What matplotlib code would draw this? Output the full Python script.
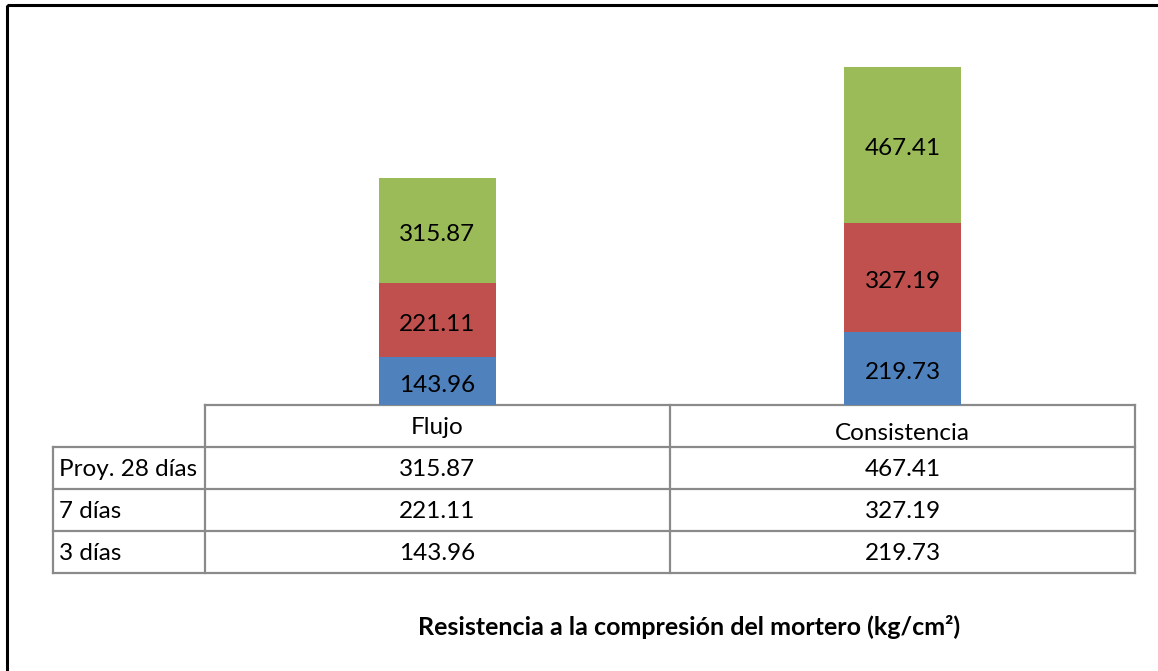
import numpy as np
import matplotlib.pyplot as plt
from matplotlib.patches import Rectangle

plt.rcParams['font.family'] = ['Lato', 'DejaVu Sans']

categorias = ["Flujo", "Consistencia"]
series = ["Proy. 28 días", "7 días", "3 días"]
dias_3 = [143.96, 219.73]
dias_7 = [221.11, 327.19]
proy_28 = [315.87, 467.41]
colores = {"3 días": "#4F81BD", "7 días": "#C0504D", "Proy. 28 días": "#9BBB59"}
titulo = "Resistencia a la compresión del mortero (kg/cm²)"

W, H = 1158, 671
FS = 17.5
fig = plt.figure(figsize=(W / 100, H / 100), dpi=100)

# plot area for the stacked bars (pixel box 205..1135 x 5..405)
ax = fig.add_axes([205 / W, (H - 405) / H, (1135 - 205) / W, 400 / H])
x = np.arange(len(categorias))
w = 0.25
bottom = np.zeros(len(categorias))
for nombre, vals in [("3 días", dias_3), ("7 días", dias_7), ("Proy. 28 días", proy_28)]:
    bars = ax.bar(x, vals, w, bottom=bottom, color=colores[nombre], edgecolor="none")
    for b, v in zip(bars, vals):
        ax.annotate(f"{v:.2f}", (b.get_x() + b.get_width() / 2, b.get_y() + v / 2),
                    xytext=(0, -3), textcoords="offset points",
                    ha="center", va="center", fontsize=FS, color="black")
    bottom += np.array(vals)
ax.set_xlim(-0.5, len(categorias) - 0.5)
ax.set_ylim(0, 1200)
ax.axis("off")

# overlay in pixel coordinates for the data table, frame and title
ov = fig.add_axes([0, 0, 1, 1], zorder=-1)
ov.set_xlim(0, W)
ov.set_ylim(H, 0)
ov.axis("off")

grid = "#8a8a8a"
lw = 1.6
col_x = [205, 670, 1135]
row_y = [405, 447, 489, 531, 573]
# header row
ov.plot([205, 1135], [405, 405], color=grid, lw=lw)
for cx in col_x:
    ov.plot([cx, cx], [405, 573], color=grid, lw=lw)
ov.plot([53, 53], [447, 573], color=grid, lw=lw)
for ry in row_y[1:]:
    ov.plot([53, 1135], [ry, ry], color=grid, lw=lw)

hdr_y = [427, 434]
for i, cat in enumerate(categorias):
    ov.text((col_x[i] + col_x[i + 1]) / 2, hdr_y[i], cat, ha="center", va="center", fontsize=FS)

tabla = {"Proy. 28 días": proy_28, "7 días": dias_7, "3 días": dias_3}
for r, nombre in enumerate(series):
    cy = (row_y[r + 1] + row_y[r + 2]) / 2 + 1.5
    ov.text(59, cy, nombre, ha="left", va="center", fontsize=FS)
    for i, v in enumerate(tabla[nombre]):
        ov.text((col_x[i] + col_x[i + 1]) / 2, cy, f"{v:.2f}", ha="center", va="center", fontsize=FS)

ov.text(689, 627, titulo, ha="center", va="center", fontsize=18, fontweight="bold")

# outer chart frame (right and bottom edges fall outside the image)
ov.add_patch(Rectangle((7, 5), 1170, 700, fill=False, edgecolor="black", lw=2.2))

plt.savefig("out.png", dpi=100)
